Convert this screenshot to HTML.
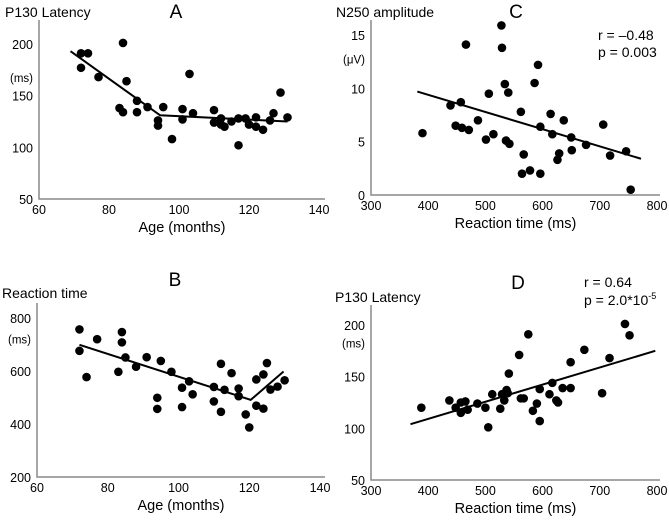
<!DOCTYPE html>
<html><head><meta charset="utf-8"><style>
body{margin:0;background:#fff;width:669px;height:522px;overflow:hidden}
svg{font-family:"Liberation Sans",sans-serif}
</style></head><body>
<svg id="s" width="669" height="522"></svg>
<script>
// Panel A: P130 latency vs age
const aAge=[72,74,72,77,84,85,83,84,88,88,91,95.5,94,94,98,101,101,103,104,110,110,112,112,113,115,117,117,119,120,122,122,124,126,127,129,131];
const aLat=[191,191,177,168,201,164,138,134,145,134,139,139,126,121,108,137,127,171,133,136,124,128,122,120,125,128,102,128,122,129,120,117,126,133,153,129];
const aFitX=[69,94.6,131]; const aFitY=[193,131,125];
// Panel B: reaction time vs age
const bAge=[72,72,74,77,84,84,83,85,88,91,95,94,94,98,101,101,103,104,110,110,112,112,113,115,117,117,119,120,122,122,124,124,125,126,128,130];
const bRT=[757,676,577,720,747,708,597,651,616,652,638,499,457,597,537,464,561,512,540,485,627,446,529,592,534,505,436,387,568,469,587,458,630,530,541,565];
const bFitX=[72,120.4,129.7]; const bFitY=[699,491,598];
// Panel C: N250 amplitude vs RT
const cRT=[390,439,457,448,459,471,466,487,501,506,514,528,529,534,540,536,542,562,567,564,578,586,592,596,596,614,617,629,626,637,650,651,676,706,718,746,754];
const cAmp=[5.8,8.4,8.7,6.5,6.3,6.1,14.1,7.0,5.2,9.5,5.7,15.9,13.8,10.4,9.6,5.1,4.8,7.8,3.8,2.0,2.3,10.5,12.2,6.4,2.0,7.6,5.7,3.9,3.3,7.0,5.4,4.2,4.7,6.6,3.7,4.1,0.5];
const cFitX=[381,772]; const cFitY=[9.7,3.4];
// Panel D: P130 latency vs RT
const dRT=[388,437,448,457,457,465,469,486,500,505,512,526,529,533,537,541,539,562,559,567,575,583,590,595,595,612,617,624,627,635,649,649,673,704,717,744,752];
const dLat=[120,127,120,125,115,126,118,124,120,101,133,119,133,127,137,153,134,129,171,129,191,117,124,107,138,133,144,127,125,139,139,164,176,134,168,201,190];
const dFitX=[369,797]; const dFitY=[104,175];

const svg=document.getElementById('s');
const NS='http://www.w3.org/2000/svg';
function mk(tag,at,parent){const e=document.createElementNS(NS,tag);for(const k in at)e.setAttribute(k,at[k]);(parent||svg).appendChild(e);return e;}
function txt(x,y,s,size,anchor,name,parent){const t=mk('text',{x:x,y:y,'font-size':size,'text-anchor':anchor||'start',fill:'#000'},parent);t.textContent=s;


return t;}

function panel(id,cfg){
  const g=mk('g',{});
  
  
  const sx=v=>cfg.x0+(v-cfg.xmin)/(cfg.xmax-cfg.xmin)*(cfg.x1-cfg.x0);
  const sy=v=>cfg.y0+(v-cfg.ymin)/(cfg.ymax-cfg.ymin)*(cfg.y1-cfg.y0);
  const ax=mk('path',{d:`M${cfg.x0},${cfg.top}V${cfg.y0}H${cfg.right}`,stroke:'#888',fill:'none','stroke-width':1.5},g);
  
  
  cfg.xt.forEach(v=>txt(sx(v),cfg.y0+15,String(v),12.5,'middle','x-tick-label',g));
  cfg.yt.forEach(v=>txt(cfg.x0-6,sy(v)+5,String(v),12.5,'end','y-tick-label',g));
  txt(cfg.x0-6,sy(cfg.ytUnitAt)+5,cfg.unit,11.5,'end','y-unit-label',g);
  txt(cfg.ylabX,cfg.ylabY,cfg.ylab,14,'start','y-axis-title',g);
  txt((cfg.x0+cfg.right)/2,cfg.y0+33,cfg.xlab,14.5,'middle','x-axis-title',g);
  txt(cfg.lx,cfg.ly,id,19,'middle','panel-letter',g);
  const pts=cfg.fx.map((v,i)=>sx(v)+','+sy(cfg.fy[i])).join(' ');
  const fl=mk('polyline',{points:pts,fill:'none',stroke:'#000','stroke-width':2},g);
  
  
  cfg.xs.forEach((v,i)=>{const c=mk('circle',{cx:sx(v),cy:sy(cfg.ys[i]),r:4.3,fill:'#000'},g);
    
    });
  return g;
}
panel('A',{x0:39,x1:319,xmin:60,xmax:140,y0:199,y1:44,ymin:50,ymax:200,top:20,right:325,xt:[60,80,100,120,140],yt:[50,100,150,200],ytUnitAt:168,unit:'(ms)',ylab:'P130 Latency',ylabX:5,ylabY:17,xlab:'Age (months)',lx:176,ly:18,xs:aAge,ys:aLat,fx:aFitX,fy:aFitY});
panel('B',{x0:37,x1:320,xmin:60,xmax:140,y0:477,y1:318,ymin:200,ymax:800,top:303,right:325,xt:[60,80,100,120,140],yt:[200,400,600,800],ytUnitAt:722,unit:'(ms)',ylab:'Reaction time',ylabX:2,ylabY:298,xlab:'Age (months)',lx:175,ly:286,xs:bAge,ys:bRT,fx:bFitX,fy:bFitY});
panel('C',{x0:371,x1:657,xmin:300,xmax:800,y0:195,y1:35,ymin:0,ymax:15,top:20,right:660,xt:[300,400,500,600,700,800],yt:[0,5,10,15],ytUnitAt:12.8,unit:'(μV)',ylab:'N250 amplitude',ylabX:336,ylabY:17,xlab:'Reaction time (ms)',lx:516,ly:18,xs:cRT,ys:cAmp,fx:cFitX,fy:cFitY});
panel('D',{x0:371,x1:657,xmin:300,xmax:800,y0:480,y1:325,ymin:50,ymax:200,top:305,right:660,xt:[300,400,500,600,700,800],yt:[50,100,150,200],ytUnitAt:183,unit:'(ms)',ylab:'P130 Latency',ylabX:335,ylabY:302,xlab:'Reaction time (ms)',lx:518,ly:289,xs:dRT,ys:dLat,fx:dFitX,fy:dFitY});
txt(598,40,'r = –0.48',14,'start','r-value-c');
txt(598,57,'p = 0.003',14,'start','p-value-c');
txt(584,287,'r = 0.64',14,'start','r-value-d');
const pd=txt(584,305,'p = 2.0*10',14,'start','p-value-d');
const sup=mk('tspan',{'font-size':9,dy:-6},pd);sup.textContent='-5';
</script>
</body></html>
